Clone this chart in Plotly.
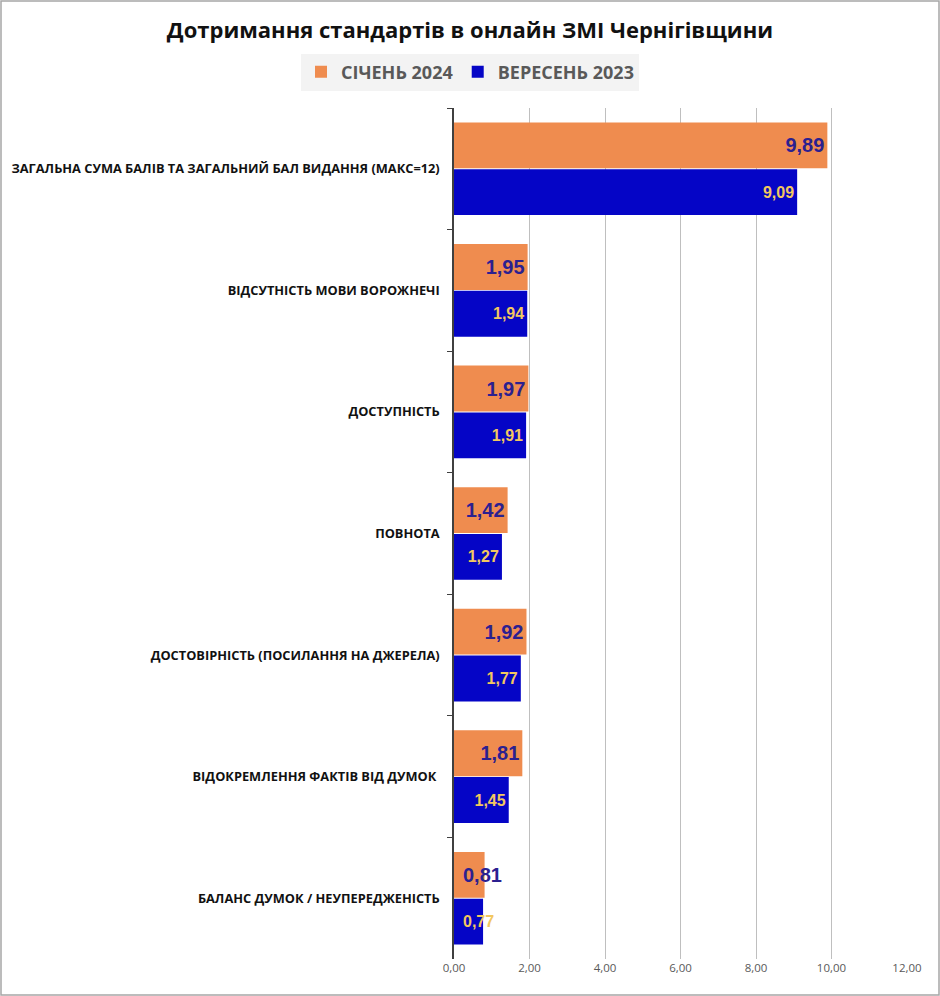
import plotly.graph_objects as go

categories = [
    "ЗАГАЛЬНА СУМА БАЛІВ ТА ЗАГАЛЬНИЙ БАЛ ВИДАННЯ (МАКС=12)",
    "ВІДСУТНІСТЬ МОВИ ВОРОЖНЕЧІ",
    "ДОСТУПНІСТЬ",
    "ПОВНОТА",
    "ДОСТОВІРНІСТЬ (ПОСИЛАННЯ НА ДЖЕРЕЛА)",
    "ВІДОКРЕМЛЕННЯ ФАКТІВ ВІД ДУМОК ",
    "БАЛАНС ДУМОК / НЕУПЕРЕДЖЕНІСТЬ",
]
jan_2024 = [9.89, 1.95, 1.97, 1.42, 1.92, 1.81, 0.81]
sep_2023 = [9.09, 1.94, 1.91, 1.27, 1.77, 1.45, 0.77]
series_names = ["СІЧЕНЬ 2024", "ВЕРЕСЕНЬ 2023"]
tick_vals = [0, 2, 4, 6, 8, 10, 12]
tick_text = ["0,00", "2,00", "4,00", "6,00", "8,00", "10,00", "12,00"]

def fmt(v):
    return f"{v:.2f}".replace(".", ",")

ORANGE = "#EF8C4F"
BLUE = "#0505C6"
ORANGE_TXT = "#2B2090"
BLUE_TXT = "#F2C760"
SMALL = 1.0  # bars shorter than this get their label anchored at the bar start

fig = go.Figure()
fig.add_trace(go.Bar(
    y=categories, x=jan_2024, orientation="h", name=series_names[0],
    marker=dict(color=ORANGE, line=dict(width=0)),
    text=[fmt(v) if v >= SMALL else "" for v in jan_2024],
    textposition="inside", insidetextanchor="end",
    textangle=0, constraintext="none",
    textfont=dict(family="Arial", size=20, color=ORANGE_TXT, weight="bold"),
))
fig.add_trace(go.Bar(
    y=categories, x=sep_2023, orientation="h", name=series_names[1],
    marker=dict(color=BLUE, line=dict(width=0)),
    text=[fmt(v) if v >= SMALL else "" for v in sep_2023],
    textposition="inside", insidetextanchor="end",
    textangle=0, constraintext="none",
    textfont=dict(family="Arial", size=16, color=BLUE_TXT, weight="bold"),
))

annotations = []
half = 0.77 / 4
for i, (a, b) in enumerate(zip(jan_2024, sep_2023)):
    if a < SMALL:
        annotations.append(dict(x=0, y=i - half, xref="x", yref="y", text=f"<b>{fmt(a)}</b>",
                                showarrow=False, xanchor="left", yanchor="middle", xshift=7,
                                font=dict(family="Arial", size=20, color=ORANGE_TXT)))
    if b < SMALL:
        annotations.append(dict(x=0, y=i + half, xref="x", yref="y", text=f"<b>{fmt(b)}</b>",
                                showarrow=False, xanchor="left", yanchor="middle", xshift=7,
                                font=dict(family="Arial", size=16, color=BLUE_TXT)))

L, R, T, B = 454, 33, 108, 37
W, H = 940, 996
pw = W - L - R
ph = H - T - B

fig.update_layout(
    width=W, height=H,
    margin=dict(l=L, r=R, t=T, b=B, autoexpand=False),
    paper_bgcolor="white", plot_bgcolor="white",
    barmode="group", bargap=0.23, bargroupgap=0.02,
    title=dict(text="<b>Дотримання стандартів в онлайн ЗМІ Чернігівщини</b>",
               x=470 / W, xref="container", xanchor="center", y=1 - 30 / H, yref="container",
               yanchor="middle",
               font=dict(family="Open Sans", size=22, color="#111111")),
    legend=dict(orientation="h", x=(470 - L) / pw, xanchor="center",
                y=1 + (T - 72) / ph, yanchor="middle",
                bgcolor="#F3F3F3", font=dict(family="Open Sans", size=18, color="#595959", weight="bold"),
                itemwidth=30, traceorder="normal"),
    showlegend=True,
    annotations=annotations,
    xaxis=dict(range=[0, 12], tickvals=tick_vals, ticktext=tick_text, automargin=False,
               showgrid=True, gridcolor="#BFBFBF", gridwidth=1, zeroline=False,
               showline=False, ticks="", tickfont=dict(family="Open Sans", size=11.5, color="#595959"),
               fixedrange=True),
    yaxis=dict(autorange="reversed", type="category", showline=True, linecolor="#404040",
               linewidth=1.5, ticks="outside", tickson="boundaries", ticklen=5, automargin=False,
               tickcolor="#404040", showgrid=False,
               tickfont=dict(family="Open Sans", size=12.8, color="#111111", weight="bold"),
               ticklabelstandoff=10),
    shapes=[dict(type="rect", xref="paper", yref="paper",
                 x0=-(L - 1) / pw, x1=1 + (R - 1) / pw,
                 y0=-(B - 1) / ph, y1=1 + (T - 1) / ph,
                 line=dict(color="#A6A6A6", width=1.5))],
)
fig.update_traces(cliponaxis=False)
fig.write_html("out.html", config={"displayModeBar": False},
               post_script="document.body.style.margin='0';")
